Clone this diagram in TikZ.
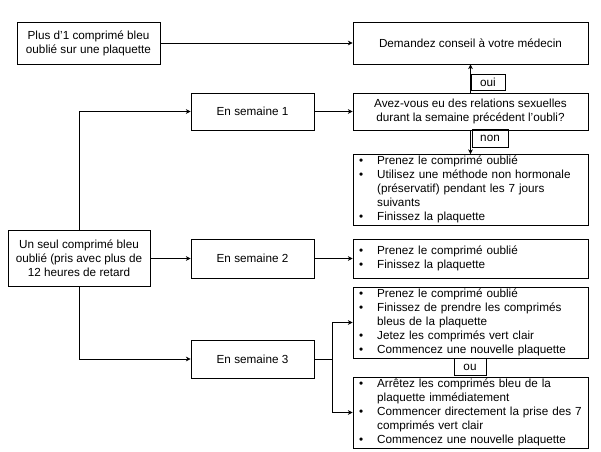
\documentclass[tikz,border=0pt]{standalone}
\usepackage{fontspec}
\setmainfont{Liberation Sans}
\usetikzlibrary{arrows.meta, positioning}
\newcommand{\blist}[1]{\begin{tabular}{@{}p{15.5pt}@{}l@{}}#1\end{tabular}}

\begin{document}
\begin{tikzpicture}[
    x=0.03cm, y=-0.03cm,
    box/.style={rectangle, draw, line width=0.8pt, align=center, inner sep=1pt, font=\fontsize{10}{12}\selectfont},
    listbox/.style={rectangle, draw, line width=0.8pt, align=left, text width=6.69cm, inner xsep=0.18cm, inner ysep=0pt, minimum height=2.13cm, font=\fontsize{10}{12}\selectfont},
    tag/.style={rectangle, draw, line width=0.8pt, inner sep=0pt, minimum width=1.02cm, minimum height=0.48cm, font=\fontsize{10}{12}\selectfont},
    arrow/.style={-{Stealth[length=4pt, width=4pt]}, line width=0.6pt}
]
\useasboundingbox (0,0) rectangle (601,451);

% Starting situations
\node[box, minimum width=4.29cm, minimum height=1.26cm] (plus) at (88.5,43) {Plus d'1 comprimé bleu\\oublié sur une plaquette};
\node[box, minimum width=4.26cm, minimum height=1.68cm] (seul) at (79,258.5) {Un seul comprimé bleu\\oublié (pris avec plus de\\12 heures de retard};

% Weeks
\node[box, minimum width=3.69cm, minimum height=1.11cm] (sem1) at (252.5,111.5) {En semaine 1};
\node[box, minimum width=3.69cm, minimum height=1.17cm] (sem2) at (252.5,258.5) {En semaine 2};
\node[box, minimum width=3.69cm, minimum height=1.14cm] (sem3) at (252.5,359) {En semaine 3};

% Advice
\node[box, minimum width=7.05cm, minimum height=1.26cm] (medecin) at (470.5,43) {Demandez conseil à votre médecin};
\node[box, minimum width=7.05cm, minimum height=1.11cm] (question) at (470.5,111.5) {Avez-vous eu des relations sexuelles\\durant la semaine précédent l'oubli?};
\node[listbox] (list1) at (470.5,190) {\blist{%
    \textbullet & Prenez le comprimé oublié\\
    \textbullet & Utilisez une méthode non hormonale\\
    & (préservatif) pendant les 7 jours\\
    & suivants\\
    \textbullet & Finissez la plaquette}};
\node[listbox, minimum height=1.17cm] (list2) at (470.5,258.5) {\blist{%
    \textbullet & Prenez le comprimé oublié\\
    \textbullet & Finissez la plaquette}};
\node[listbox] (list3) at (470.5,322.5) {\blist{%
    \textbullet & Prenez le comprimé oublié\\
    \textbullet & Finissez de prendre les comprimés\\
    & bleus de la plaquette\\
    \textbullet & Jetez les comprimés vert clair\\
    \textbullet & Commencez une nouvelle plaquette}};
\node[listbox] (list4) at (470.5,412.5) {\blist{%
    \textbullet & Arrêtez les comprimés bleu de la\\
    & plaquette immédiatement\\
    \textbullet & Commencer directement la prise des 7\\
    & comprimés vert clair\\
    \textbullet & Commencez une nouvelle plaquette}};

% Answer tags
\node[tag] (oui) at (488,82) {oui};
\node[tag, minimum width=1.08cm, minimum height=0.54cm] (non) at (490,138.5) {non};
\node[tag, minimum width=0.96cm, minimum height=0.51cm] (ou) at (470,367) {ou};

% Arrows
\draw[arrow] (plus) -- (medecin);
\draw[arrow] (seul.north) |- (sem1.west);
\draw[arrow] (seul.east) -- (sem2.west);
\draw[arrow] (seul.south) |- (sem3.west);
\draw[arrow] (sem1) -- (question);
\draw[arrow] (question) -- (medecin);
\draw[arrow] (question) -- (list1);
\draw[arrow] (sem2) -- (list2);
\coordinate[right=0.54cm of sem3.east] (split);
\draw[line width=0.6pt] (sem3.east) -- (split);
\draw[arrow] (split) |- (list3.west);
\draw[arrow] (split) |- (list4.west);

\end{tikzpicture}
\end{document}
